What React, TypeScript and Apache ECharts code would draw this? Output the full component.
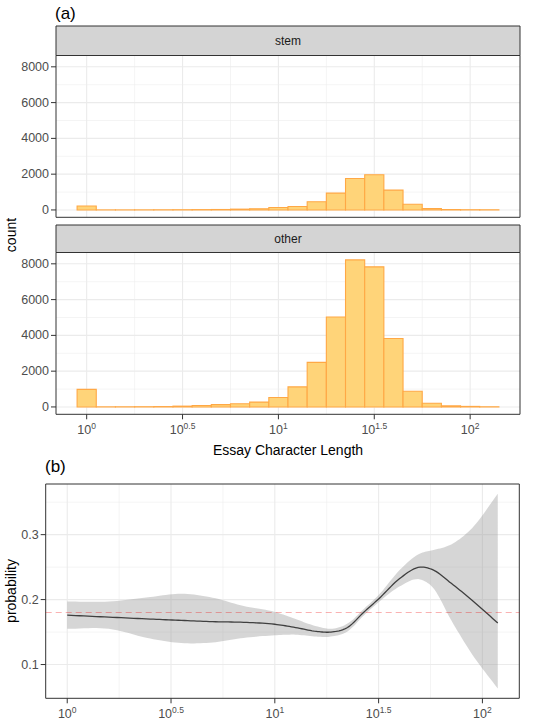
import React, { useEffect, useRef } from 'react';
import * as echarts from 'echarts';

// ---------- Data ----------
// Histogram bins: centers in log10(essay character length), width 0.1 decade
const binCenters = [0, 0.1, 0.2, 0.3, 0.4, 0.5, 0.6, 0.7, 0.8, 0.9, 1.0, 1.1, 1.2, 1.3, 1.4, 1.5, 1.6, 1.7, 1.8, 1.9, 2.0, 2.1];
const stemCounts = [220, 3, 3, 5, 8, 12, 18, 25, 45, 65, 140, 195, 455, 940, 1760, 1970, 1110, 318, 75, 22, 12, 8];
const otherCounts = [980, 6, 8, 12, 20, 45, 80, 130, 175, 270, 530, 1120, 2490, 5030, 8220, 7830, 3830, 880, 210, 58, 30, 15];
const binWidth = 0.1;

// Panel (b): smoothed probability with confidence band
const bandX = [0, 0.2, 0.4, 0.55, 0.7, 0.85, 1.0, 1.1, 1.2, 1.27, 1.35, 1.43, 1.5, 1.6, 1.7, 1.76, 1.85, 1.95, 2.074];
const meanProb = [0.176, 0.173, 0.170, 0.168, 0.166, 0.165, 0.162, 0.157, 0.151, 0.150, 0.157, 0.181, 0.201, 0.232, 0.250, 0.246, 0.225, 0.199, 0.164];
const upperProb = [0.197, 0.197, 0.204, 0.209, 0.203, 0.190, 0.181, 0.170, 0.159, 0.155, 0.163, 0.186, 0.207, 0.245, 0.271, 0.276, 0.285, 0.310, 0.363];
const lowerProb = [0.155, 0.155, 0.140, 0.133, 0.134, 0.141, 0.145, 0.146, 0.143, 0.143, 0.151, 0.176, 0.196, 0.220, 0.231, 0.219, 0.168, 0.116, 0.063];
const baseRate = 0.1843;

// Ticks
const xMajorTicks = [0, 0.5, 1, 1.5, 2];
const xMinorTicks = [0.25, 0.75, 1.25, 1.75];
const countMajorTicks = [0, 2000, 4000, 6000, 8000];
const countMinorTicks = [1000, 3000, 5000, 7000];
const probMajorTicks = [0.1, 0.2, 0.3];
const probMinorTicks = [0.15, 0.25, 0.35];

const facetLabels = ['stem', 'other'];

// ---------- Styles ----------
const FONT = "'Liberation Sans', Arial, Helvetica, sans-serif";
const TICK_COLOR = '#4D4D4D';
const GRID_COLOR = '#EBEBEB';
const BORDER = '#333333';
const BAR_FILL = '#FFD479';
const BAR_STROKE = '#FFA845';
const TICK_LEN = 5;

const P0 = { left: 56, top: 55.5, width: 464, height: 161.8 };
const P1 = { left: 56, top: 252.5, width: 464, height: 161.8 };
const P2 = { left: 45.7, top: 484, width: 473.6, height: 214.3 };

const xLabelFormatter = (v: number) => '{b|10}{s|' + String(v) + '}';
const xRich = {
  b: { fontSize: 12.5, color: TICK_COLOR, fontFamily: FONT, verticalAlign: 'bottom' },
  s: { fontSize: 8.5, color: TICK_COLOR, fontFamily: FONT, verticalAlign: 'bottom', padding: [0, 0, 6, 0] },
};

// vertical gridline (+ optional tick below the panel)
const vLineRender = (params: any, api: any) => {
  const cs = params.coordSys;
  const x = api.coord([api.value(0), api.value(1)])[0];
  const major = api.value(2) === 1;
  const withTick = api.value(3) === 1;
  const children: any[] = [
    {
      type: 'line',
      shape: { x1: x, y1: cs.y, x2: x, y2: cs.y + cs.height },
      style: { stroke: GRID_COLOR, lineWidth: major ? 1.1 : 0.55 },
    },
  ];
  if (major && withTick) {
    children.push({
      type: 'line',
      shape: { x1: x, y1: cs.y + cs.height, x2: x, y2: cs.y + cs.height + TICK_LEN },
      style: { stroke: BORDER, lineWidth: 1 },
    });
  }
  return { type: 'group', children };
};
// horizontal gridline (+ tick left of the panel)
const hLineRender = (params: any, api: any) => {
  const cs = params.coordSys;
  const y = api.coord([api.value(0), api.value(1)])[1];
  const major = api.value(2) === 1;
  const children: any[] = [
    {
      type: 'line',
      shape: { x1: cs.x, y1: y, x2: cs.x + cs.width, y2: y },
      style: { stroke: GRID_COLOR, lineWidth: major ? 1.1 : 0.55 },
    },
  ];
  if (major) {
    children.push({
      type: 'line',
      shape: { x1: cs.x - TICK_LEN, y1: y, x2: cs.x, y2: y },
      style: { stroke: BORDER, lineWidth: 1 },
    });
  }
  return { type: 'group', children };
};
const histRender = (params: any, api: any) => {
  const c = api.value(0);
  const h = api.value(1);
  const p0 = api.coord([c - binWidth / 2, 0]);
  const p1 = api.coord([c + binWidth / 2, h]);
  return {
    type: 'rect',
    shape: { x: p0[0], y: p1[1], width: p1[0] - p0[0], height: p0[1] - p1[1] },
    style: { fill: BAR_FILL, stroke: BAR_STROKE, lineWidth: 1.1 },
  };
};

// smooth pixel-space curve through given pixel points (cubic Hermite, x monotone)
function smoothPixels(pts: number[][], steps = 10): number[][] {
  const n = pts.length;
  const d: number[] = [];
  for (let i = 0; i < n - 1; i++) d.push((pts[i + 1][1] - pts[i][1]) / (pts[i + 1][0] - pts[i][0]));
  const m: number[] = [];
  for (let i = 0; i < n; i++) {
    if (i === 0) m.push(d[0]);
    else if (i === n - 1) m.push(d[n - 2]);
    else {
      const h0 = pts[i][0] - pts[i - 1][0];
      const h1 = pts[i + 1][0] - pts[i][0];
      m.push((d[i - 1] * h1 + d[i] * h0) / (h0 + h1));
    }
  }
  const out: number[][] = [];
  for (let i = 0; i < n - 1; i++) {
    const [x0, y0] = pts[i];
    const [x1, y1] = pts[i + 1];
    const h = x1 - x0;
    for (let s = 0; s < steps; s++) {
      const t = s / steps;
      const t2 = t * t;
      const t3 = t2 * t;
      const y = (2 * t3 - 3 * t2 + 1) * y0 + (t3 - 2 * t2 + t) * h * m[i] + (-2 * t3 + 3 * t2) * y1 + (t3 - t2) * h * m[i + 1];
      out.push([x0 + t * h, y]);
    }
  }
  out.push(pts[n - 1]);
  return out;
}

const bandRender = (params: any, api: any) => {
  if (params.dataIndex !== 0) return null;
  const up = bandX.map((x, i) => api.coord([x, upperProb[i]]));
  const lo = bandX.map((x, i) => api.coord([x, lowerProb[i]]));
  const upS = smoothPixels(up);
  const loS = smoothPixels(lo).reverse();
  return {
    type: 'polygon',
    shape: { points: [...upS, ...loS] },
    style: { fill: 'rgba(153,153,153,0.4)', stroke: 'none' },
  };
};
const meanRender = (params: any, api: any) => {
  if (params.dataIndex !== 0) return null;
  const pts = bandX.map((x, i) => api.coord([x, meanProb[i]]));
  return {
    type: 'polyline',
    shape: { points: smoothPixels(pts) },
    style: { stroke: '#3F3F3F', lineWidth: 1.3, fill: 'none' },
  };
};

function gridSeries(xi: number, xMaj: number[], xMin: number[], yMaj: number[], yMin: number[], yRef: number, xTicks: boolean) {
  const tf = xTicks ? 1 : 0;
  return [
    {
      type: 'custom', xAxisIndex: xi, yAxisIndex: xi, z: 1, silent: true,
      renderItem: vLineRender,
      encode: { x: 0, y: 1 },
      data: [...xMin.map((v) => [v, yRef, 0, tf]), ...xMaj.map((v) => [v, yRef, 1, tf])],
    },
    {
      type: 'custom', xAxisIndex: xi, yAxisIndex: xi, z: 1, silent: true,
      renderItem: hLineRender,
      encode: { x: 0, y: 1 },
      data: [...yMin.map((v) => [0, v, 0]), ...yMaj.map((v) => [0, v, 1])],
    },
  ];
}

function buildOption() {
  const yAxisCommon = {
    type: 'value',
    splitLine: { show: false },
    axisLine: { show: false },
    axisTick: { show: false },
  };
  const histY = (i: number) => ({
    ...yAxisCommon,
    gridIndex: i,
    min: -411,
    max: 8633,
    axisLabel: {
      customValues: countMajorTicks, margin: 7, color: TICK_COLOR, fontSize: 12.5, fontFamily: FONT,
      formatter: (v: number) => String(v),
    },
  });

  const strip = (p: any, top: number, h: number, label: string) => [
    {
      type: 'rect',
      shape: { x: p.left, y: top, width: p.width, height: h },
      style: { fill: '#D4D4D4', stroke: BORDER, lineWidth: 1 },
      silent: true,
    },
    {
      type: 'text',
      x: p.left + p.width / 2,
      y: top + h / 2,
      style: { text: label, fill: '#1A1A1A', fontSize: 12, fontFamily: FONT, align: 'center', verticalAlign: 'middle' },
      silent: true,
    },
  ];

  const gridCommon = { show: true, borderColor: BORDER, borderWidth: 1, backgroundColor: 'transparent', outerBoundsMode: 'none', containLabel: false, z: 5 };

  return {
    animation: false,
    backgroundColor: '#FFFFFF',
    grid: [
      { ...P0, ...gridCommon },
      { ...P1, ...gridCommon },
      { ...P2, ...gridCommon },
    ],
    xAxis: [
      {
        type: 'value', gridIndex: 0, min: -0.16, max: 2.26,
        splitLine: { show: false }, axisLine: { show: false }, axisTick: { show: false }, axisLabel: { show: false },
      },
      {
        type: 'value', gridIndex: 1, min: -0.16, max: 2.26,
        splitLine: { show: false }, axisLine: { show: false }, axisTick: { show: false },
        axisLabel: { customValues: xMajorTicks, margin: 7, formatter: xLabelFormatter, rich: xRich },
      },
      {
        type: 'value', gridIndex: 2, min: -0.1037, max: 2.1777,
        splitLine: { show: false }, axisLine: { show: false }, axisTick: { show: false },
        axisLabel: { customValues: xMajorTicks, margin: 7, formatter: xLabelFormatter, rich: xRich },
      },
    ],
    yAxis: [
      histY(0),
      histY(1),
      {
        ...yAxisCommon,
        gridIndex: 2,
        min: 0.048,
        max: 0.378,
        axisLabel: {
          customValues: probMajorTicks, margin: 7, color: TICK_COLOR, fontSize: 12.5, fontFamily: FONT,
          formatter: (v: number) => String(Math.round(v * 10) / 10),
        },
      },
    ],
    graphic: [
      ...strip(P0, 26, 29.5, facetLabels[0]),
      ...strip(P1, 225, 27.5, facetLabels[1]),
      {
        type: 'text', x: 55, y: 5,
        style: { text: '(a)', fill: '#000', fontSize: 17, fontFamily: FONT },
      },
      {
        type: 'text', x: 45, y: 458,
        style: { text: '(b)', fill: '#000', fontSize: 17, fontFamily: FONT },
      },
      {
        type: 'text', x: 288, y: 450,
        style: { text: 'Essay Character Length', fill: '#000', fontSize: 14, fontFamily: FONT, align: 'center', verticalAlign: 'middle' },
      },
      {
        type: 'text', x: 11, y: 235, rotation: Math.PI / 2,
        style: { text: 'count', fill: '#000', fontSize: 14, fontFamily: FONT, align: 'center', verticalAlign: 'middle' },
      },
      {
        type: 'text', x: 11, y: 591, rotation: Math.PI / 2,
        style: { text: 'probability', fill: '#000', fontSize: 14, fontFamily: FONT, align: 'center', verticalAlign: 'middle' },
      },
    ],
    series: [
      ...gridSeries(0, xMajorTicks, xMinorTicks, countMajorTicks, countMinorTicks, 0, false),
      {
        type: 'custom', xAxisIndex: 0, yAxisIndex: 0, z: 3, silent: true,
        renderItem: histRender, encode: { x: 0, y: 1 },
        data: binCenters.map((c, i) => [c, stemCounts[i]]),
      },
      ...gridSeries(1, xMajorTicks, xMinorTicks, countMajorTicks, countMinorTicks, 0, true),
      {
        type: 'custom', xAxisIndex: 1, yAxisIndex: 1, z: 3, silent: true,
        renderItem: histRender, encode: { x: 0, y: 1 },
        data: binCenters.map((c, i) => [c, otherCounts[i]]),
      },
      ...gridSeries(2, xMajorTicks, xMinorTicks, probMajorTicks, probMinorTicks, 0.2, true),
      {
        type: 'custom', xAxisIndex: 2, yAxisIndex: 2, z: 2, silent: true,
        renderItem: bandRender, encode: { x: 0, y: 1 },
        data: bandX.map((x, i) => [x, upperProb[i], lowerProb[i]]),
      },
      {
        type: 'line', xAxisIndex: 2, yAxisIndex: 2, z: 3, silent: true,
        symbol: 'none',
        lineStyle: { opacity: 0, width: 0 },
        data: [[bandX[0], baseRate], [bandX[bandX.length - 1], baseRate]],
        markLine: {
          silent: true, symbol: 'none',
          label: { show: false },
          lineStyle: { color: 'rgba(240,0,0,0.3)', type: [6, 4], width: 1.1 },
          data: [{ yAxis: baseRate }],
        },
      },
      {
        type: 'custom', xAxisIndex: 2, yAxisIndex: 2, z: 4, silent: true,
        renderItem: meanRender, encode: { x: 0, y: 1 },
        data: bandX.map((x, i) => [x, meanProb[i]]),
      },
    ],
  };
}

export default function App() {
  const ref = useRef<HTMLDivElement>(null);
  useEffect(() => {
    document.body.style.margin = '0';
    const chart = echarts.init(ref.current as HTMLDivElement, null, { renderer: 'svg' });
    chart.setOption(buildOption() as any);
    return () => chart.dispose();
  }, []);
  return <div ref={ref} style={{ width: 548, height: 723 }} />;
}
